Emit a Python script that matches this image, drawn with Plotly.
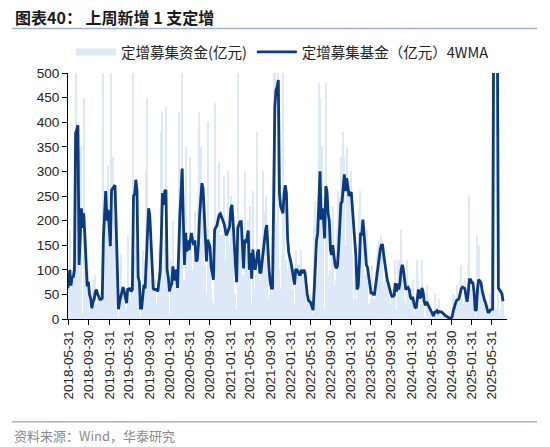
import pandas as pd
import plotly.graph_objects as go

# weekly raised amount (亿元), first week 2018-05-24
start_date = "2018-05-24"
raised = [
    40, 90, 180, 20, 60, 100, 120, 1150, 90, 150,
    50, 350, 350, 10, 450, 170, 80, 20, 100, 15,
    30, 10, 80, 40, 90, 30, 40, 40, 50, 30,
    45, 520, 260, 200, 60, 310, 180, 50, 500, 330,
    200, 50, 180, 20, 5, 40, 130, 50, 60, 30,
    20, 25, 170, 30, 40, 20, 80, 850, 130, 150,
    80, 20, 40, 5, 20, 140, 120, 20, 300, 450,
    150, 50, 80, 10, 110, 40, 80, 30, 70, 140,
    150, 380, 420, 80, 160, 430, 30, 60, 10, 120,
    90, 200, 20, 90, 70, 80, 420, 270, 300, 520,
    40, 80, 350, 80, 150, 60, 330, 150, 100, 120,
    220, 30, 130, 250, 420, 350, 260, 220, 80, 110,
    50, 400, 150, 100, 60, 40, 30, 440, 200, 90,
    180, 320, 150, 170, 170, 290, 120, 100, 200, 300,
    150, 250, 230, 120, 40, 50, 20, 520, 200, 80,
    180, 60, 90, 300, 140, 130, 200, 30, 230, 30,
    260, 50, 60, 90, 380, 90, 30, 80, 160, 300,
    220, 250, 90, 40, 40, 50, 90, 70, 1000, 600,
    200, 90, 1050, 100, 60, 130, 570, 250, 90, 120,
    100, 150, 100, 110, 40, 60, 30, 140, 100, 110,
    40, 110, 140, 90, 70, 80, 30, 20, 40, 50,
    20, 10, 5, 190, 240, 200, 80, 480, 450, 40,
    350, 250, 20, 480, 260, 90, 80, 100, 200, 230,
    70, 40, 80, 180, 260, 250, 330, 220, 380, 330,
    150, 350, 250, 200, 280, 300, 130, 40, 120, 40,
    20, 60, 220, 260, 140, 200, 90, 90, 60, 180,
    30, 20, 40, 110, 30, 40, 100, 130, 150, 160,
    120, 170, 160, 70, 80, 50, 90, 60, 40, 30,
    50, 60, 30, 120, 20, 120, 30, 120, 180, 120,
    60, 40, 30, 120, 60, 30, 10, 60, 80, 10,
    5, 30, 120, 80, 20, 30, 120, 60, 5, 5,
    70, 40, 10, 10, 20, 5, 0, 50, 10, 10,
    5, 40, 10, 5, 5, 10, 5, 5, 0, 0,
    0, 10, 5, 50, 50, 30, 70, 30, 30, 80,
    110, 40, 30, 80, 30, 0, 110, 250, 60, 60,
    80, 30, 5, 0, 170, 150, 60, 70, 40, 30,
    30, 30, 10, 5, 10, 50, 10, 15, 2550, 20,
    15, 20, 200, 10, 20, 60, 50,
]

# 4-week moving average (亿元)
ma4 = [
    63, 70, 100, 68, 87, 85, 100, 378, 384, 394,
    110, 160, 225, 185, 215, 170, 100, 66, 76, 50,
    42, 22, 35, 40, 55, 60, 50, 45, 40, 40,
    42, 165, 215, 260, 200, 222, 188, 148, 262, 266,
    270, 272, 190, 100, 20, 35, 45, 55, 65, 56,
    40, 32, 62, 60, 63, 56, 60, 250, 254, 283,
    260, 85, 76, 22, 22, 50, 70, 62, 120, 200,
    225, 212, 160, 85, 62, 60, 60, 60, 56, 85,
    97, 170, 256, 232, 260, 262, 100, 85, 56, 66,
    72, 107, 78, 100, 95, 63, 150, 210, 256, 306,
    202, 110, 175, 137, 160, 140, 160, 175, 160, 150,
    160, 117, 120, 150, 208, 250, 276, 266, 220, 181,
    117, 161, 155, 147, 107, 90, 80, 181, 185, 190,
    202, 212, 214, 208, 202, 195, 185, 170, 175, 180,
    188, 225, 232, 195, 140, 110, 75, 185, 192, 198,
    198, 130, 103, 161, 155, 165, 180, 100, 134, 82,
    141, 115, 100, 114, 135, 141, 93, 95, 120, 130,
    154, 180, 191, 141, 100, 75, 63, 63, 300, 430,
    465, 472, 486, 256, 229, 220, 215, 255, 272, 256,
    165, 135, 120, 114, 100, 88, 70, 100, 100, 97,
    90, 90, 100, 93, 100, 95, 66, 50, 38, 36,
    33, 25, 18, 60, 110, 160, 175, 249, 300, 202,
    225, 202, 164, 270, 260, 215, 200, 140, 130, 150,
    125, 110, 103, 107, 140, 190, 235, 238, 270, 294,
    260, 286, 270, 250, 255, 258, 225, 185, 150, 127,
    60, 66, 114, 175, 170, 202, 175, 130, 110, 105,
    90, 70, 53, 53, 50, 50, 70, 80, 100, 127,
    141, 150, 150, 130, 112, 93, 80, 72, 60, 53,
    46, 46, 48, 73, 56, 72, 60, 73, 100, 110,
    100, 80, 60, 62, 64, 60, 45, 40, 45, 33,
    24, 22, 45, 60, 42, 45, 63, 55, 35, 28,
    35, 30, 25, 20, 15, 10, 6, 14, 14, 17,
    13, 15, 15, 14, 12, 9, 7, 6, 4, 2,
    1, 2, 4, 16, 27, 32, 38, 39, 42, 52,
    62, 65, 64, 62, 48, 35, 55, 80, 80, 74,
    73, 55, 17, 19, 62, 80, 77, 73, 58, 45,
    38, 32, 23, 14, 14, 18, 19, 20, 650, 650,
    650, 650, 63, 60, 57, 52, 36,
]

tick_labels = [
    "2018-05-31", "2018-09-30", "2019-01-31", "2019-05-31", "2019-09-30",
    "2020-01-31", "2020-05-31", "2020-09-30", "2021-01-31", "2021-05-31",
    "2021-09-30", "2022-01-31", "2022-05-31", "2022-09-30", "2023-01-31",
    "2023-05-31", "2023-09-30", "2024-01-31", "2024-05-31", "2024-09-30",
    "2025-01-31", "2025-05-31",
]

name_bar = "定增募集资金(亿元)"
name_line = "定增募集基金（亿元）4WMA"
title_text = "图表40：\u00a0上周新增 1 支定增"
source_text = "资料来源：Wind，华泰研究"

n = min(len(raised), len(ma4))
dates = pd.date_range(start_date, periods=n, freq="7D")

BAR_COLOR = "#dde9f6"
LINE_COLOR = "#0b3a80"
CJK = "Noto Sans CJK SC"
LAT = "Liberation Sans, Arial"

fig = go.Figure()
fig.add_trace(go.Bar(x=dates, y=raised[:n], marker=dict(color=BAR_COLOR, line=dict(width=0)),
                     showlegend=False, name=name_bar))
# legend swatch for the bars (wide flat rectangle)
fig.add_trace(go.Scatter(x=[None], y=[None], mode="lines", name=name_bar,
                         line=dict(color=BAR_COLOR, width=7)))
fig.add_trace(go.Scatter(x=dates, y=ma4[:n], mode="lines", name=name_line,
                         line=dict(color=LINE_COLOR, width=2.8)))

L, R, T, B = 68, 43, 73, 128
W, H = 550, 447
pw, ph = W - L - R, H - T - B

def px_x(p):
    return (p - L) / pw

def px_y(p):
    return (H - B - p) / ph

fig.update_layout(
    width=W, height=H,
    margin=dict(l=L, r=R, t=T, b=B, autoexpand=False),
    paper_bgcolor="white", plot_bgcolor="white",
    bargap=0,
    showlegend=True,
    legend=dict(orientation="h", x=px_x(71), y=px_y(52), xanchor="left", yanchor="middle",
                font=dict(family=CJK, size=14.5, color="#222222"),
                itemwidth=40, bgcolor="rgba(0,0,0,0)", traceorder="normal"),
    xaxis=dict(type="date", range=["2018-05-27", "2025-08-31"], automargin=False,
               tickvals=tick_labels, ticktext=tick_labels, tickangle=-90,
               showline=True, linecolor="black", linewidth=1.2,
               ticks="outside", ticklen=5, tickcolor="black", tickwidth=1.2,
               showgrid=False, zeroline=False,
               tickfont=dict(family=LAT, size=13.5, color="#222222")),
    yaxis=dict(range=[0, 500], dtick=50, tick0=0, automargin=False,
               showline=True, linecolor="black", linewidth=1.2,
               ticks="outside", ticklen=5, tickcolor="black", tickwidth=1.2,
               showgrid=False, zeroline=False,
               tickfont=dict(family=LAT, size=13.5, color="#222222")),
    shapes=[
        dict(type="line", xref="paper", yref="paper", x0=px_x(12), x1=px_x(537),
             y0=px_y(28.5), y1=px_y(28.5), line=dict(color="#9fb3cf", width=1.5)),
        dict(type="line", xref="paper", yref="paper", x0=px_x(12), x1=px_x(537),
             y0=px_y(421.7), y1=px_y(421.7), line=dict(color="#9fb3cf", width=1.5)),
    ],
    annotations=[
        dict(text="<b>" + title_text + "</b>", xref="paper", yref="paper",
             x=px_x(13), y=px_y(16.7), xanchor="left", yanchor="middle", showarrow=False,
             font=dict(family=CJK, size=16, color="#1a1a1a")),
        dict(text=source_text, xref="paper", yref="paper",
             x=px_x(12), y=px_y(435), xanchor="left", yanchor="middle", showarrow=False,
             font=dict(family=CJK, size=13, color="#8a8a8a")),
    ],
)

fig.write_html("out.html", config={"displayModeBar": False},
               post_script="document.body.style.margin='0px';")
